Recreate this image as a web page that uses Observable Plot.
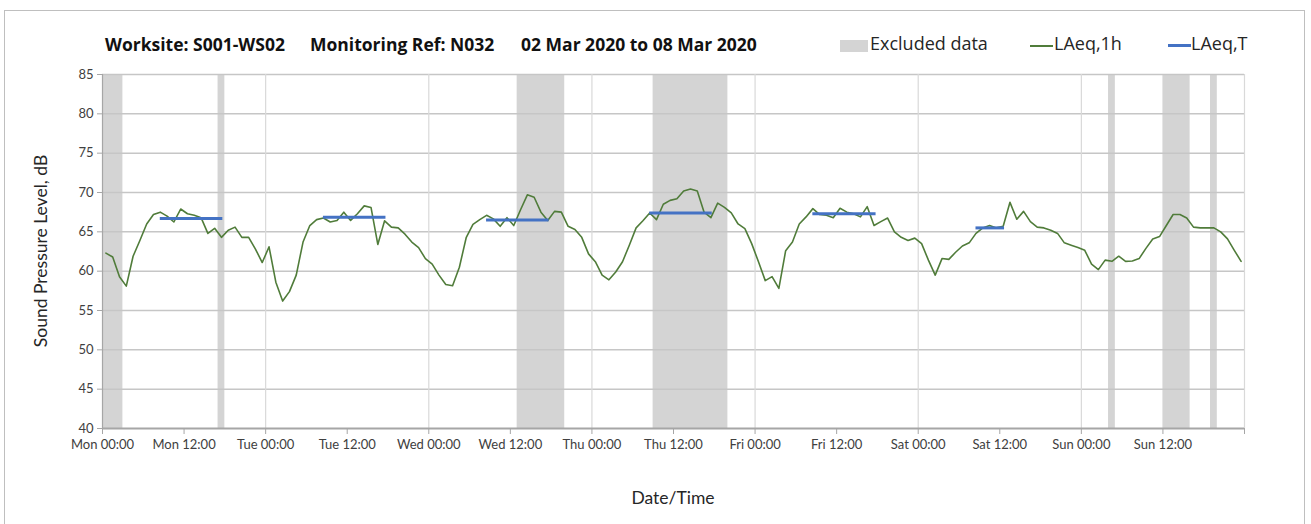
<!DOCTYPE html>
<html>
<head>
<meta charset="utf-8">
<script src="https://cdn.jsdelivr.net/npm/d3@7"></script>
<script src="https://cdn.jsdelivr.net/npm/@observablehq/plot@0.6"></script>
<style>
  html, body { margin: 0; padding: 0; background: #fff; }
  #wrap { position: relative; width: 1311px; height: 524px; overflow: hidden; font-family: Lato, "Open Sans", sans-serif; color: #262626; }
  #frame { position: absolute; left: 4px; top: 10px; width: 1301px; height: 530px; border: 1px solid #bfbfbf; box-sizing: border-box; }
  #chart { position: absolute; left: 0; top: 0; }
  .ttl { position: absolute; top: 32px; font-family: "Open Sans", sans-serif; font-weight: bold; font-size: 17.5px; white-space: nowrap; color: #111; }
  .leg { position: absolute; top: 31px; font-family: "Open Sans", sans-serif; font-size: 18px; white-space: nowrap; color: #262626; }
  .sw { position: absolute; }
  #ylab { position: absolute; left: 40px; top: 251px; transform: translate(-50%, -50%) rotate(-90deg); font-size: 17.5px; white-space: nowrap; color: #262626; }
  #xlab { position: absolute; left: 673px; top: 497px; transform: translate(-50%, -50%); font-size: 17.5px; white-space: nowrap; color: #262626; }
</style>
</head>
<body>
<div id="wrap">
  <div id="frame"></div>
  <div id="chart"></div>
  <div class="ttl" style="left:105px">Worksite: S001-WS02</div>
  <div class="ttl" style="left:310px">Monitoring Ref: N032</div>
  <div class="ttl" style="left:521px">02 Mar 2020 to 08 Mar 2020</div>
  <div class="sw" style="left:840px;top:40px;width:28px;height:12px;background:#d4d4d4"></div>
  <div class="leg" style="left:870px">Excluded data</div>
  <div class="sw" style="left:1030px;top:45px;width:23px;height:2px;background:#507c3a"></div>
  <div class="leg" style="left:1054px">LAeq,1h</div>
  <div class="sw" style="left:1168px;top:44px;width:23px;height:3px;background:#4472c4"></div>
  <div class="leg" style="left:1191px">LAeq,T</div>
  <div id="ylab">Sound Pressure Level, dB</div>
  <div id="xlab">Date/Time</div>
</div>
<script>
// ---- data ----
const days = ["Mon", "Tue", "Wed", "Thu", "Fri", "Sat", "Sun"];
const xTicks = [0, 12, 24, 36, 48, 60, 72, 84, 96, 108, 120, 132, 144, 156, 168];
const dayLines = [24, 48, 72, 96, 120, 144, 168];
const yTicks = [40, 45, 50, 55, 60, 65, 70, 75, 80, 85];

// hourly LAeq,1h values (hour 0 = Mon 00:00-01:00)
const laeq1h = [
  62.3, 61.8, 59.3, 58.1, 61.9, 63.9, 66.0, 67.2, 67.5, 67.0, 66.25, 67.9, 67.3, 67.1, 66.8, 64.8, 65.45, 64.3, 65.2, 65.6, 64.3, 64.3, 62.8, 61.1,
  63.1, 58.6, 56.2, 57.4, 59.5, 63.7, 65.8, 66.55, 66.75, 66.25, 66.45, 67.5, 66.45, 67.3, 68.3, 68.1, 63.4, 66.4, 65.6, 65.5, 64.7, 63.7, 63.0, 61.6,
  60.9, 59.5, 58.3, 58.15, 60.5, 64.25, 65.95, 66.55, 67.1, 66.65, 65.7, 66.8, 65.8, 67.8, 69.7, 69.4, 67.5, 66.45, 67.6, 67.5, 65.7, 65.3, 64.3, 62.2,
  61.2, 59.5, 58.9, 59.9, 61.2, 63.3, 65.5, 66.4, 67.4, 66.55, 68.5, 69.0, 69.2, 70.2, 70.45, 70.2, 67.5, 66.8, 68.65, 68.1, 67.4, 66.0, 65.4, 63.5,
  61.2, 58.8, 59.3, 57.8, 62.6, 63.7, 66.0, 66.9, 67.95, 67.2, 67.1, 66.8, 68.0, 67.5, 67.3, 66.9, 68.2, 65.8, 66.3, 66.75, 65.0, 64.3, 63.9, 64.2,
  63.5, 61.4, 59.5, 61.6, 61.5, 62.4, 63.2, 63.6, 64.8, 65.5, 65.8, 65.5, 65.7, 68.75, 66.6, 67.6, 66.3, 65.6, 65.5, 65.2, 64.8, 63.6, 63.3, 63.0,
  62.65, 60.9, 60.2, 61.4, 61.25, 61.9, 61.25, 61.3, 61.6, 62.9, 64.1, 64.4, 65.8, 67.2, 67.2, 66.75, 65.6, 65.5, 65.5, 65.5, 65.0, 64.1, 62.65, 61.25
];

// excluded data periods (hours from Mon 00:00)
const excludedStart = [0, 17, 61, 81, 148, 156, 163];
const excludedEnd   = [3, 18, 68, 92, 149, 160, 164];

// LAeq,T periods (hours from Mon 00:00)
const periodStart = [8.5, 32.5, 56.5, 80.5, 104.5, 128.5];
const periodEnd   = [17.7, 41.7, 65.7, 89.7, 113.8, 132.7];
const periodValue = [66.7, 66.85, 66.5, 67.4, 67.3, 65.5];

// ---- tables ----
const hourly = laeq1h.map((v, i) => ({t: i + 0.5, v}));
const excluded = excludedStart.map((s, i) => ({s, e: excludedEnd[i]}));
const periods = periodStart.map((s, i) => ({s, e: periodEnd[i], v: periodValue[i]}));

const fmt = h => h >= 168 ? "" : `${days[Math.floor(h / 24)]} ${String(h % 24).padStart(2, "0")}:00`;

const chart = Plot.plot({
  width: 1311,
  height: 524,
  marginLeft: 102,
  marginRight: 67,
  marginTop: 74,
  marginBottom: 96,
  style: {fontFamily: "Lato, 'Open Sans', sans-serif", fontSize: "13px", color: "#404040", background: "transparent", overflow: "visible"},
  x: {domain: [0, 168], label: null},
  y: {domain: [40, 85], label: null},
  marks: [
    Plot.rect(excluded, {x1: "s", x2: "e", fill: "#d4d4d4"}),
    Plot.gridY(yTicks.filter(v => v > 40), {stroke: "#c6c6c6", strokeOpacity: 1, strokeWidth: 1.5}),
    Plot.gridX(dayLines, {stroke: "#d9d9d9", strokeOpacity: 1, strokeWidth: 1.2}),
    Plot.ruleX([0], {stroke: "#a6a6a6", strokeWidth: 1.2}),
    Plot.ruleY([40], {stroke: "#a6a6a6", strokeWidth: 2}),
    Plot.axisX(xTicks, {tickFormat: fmt, tickSize: 6, tickPadding: 5, stroke: "#a6a6a6", fill: "#404040", label: null}),
    Plot.axisY(yTicks, {tickSize: 5, tickPadding: 4, stroke: "#a6a6a6", fill: "#404040", label: null}),
    Plot.line(hourly, {x: "t", y: "v", stroke: "#507c3a", strokeWidth: 1.6}),
    Plot.ruleY(periods, {x1: "s", x2: "e", y: "v", stroke: "#4472c4", strokeWidth: 3})
  ]
});
document.getElementById("chart").appendChild(chart);
</script>
</body>
</html>
